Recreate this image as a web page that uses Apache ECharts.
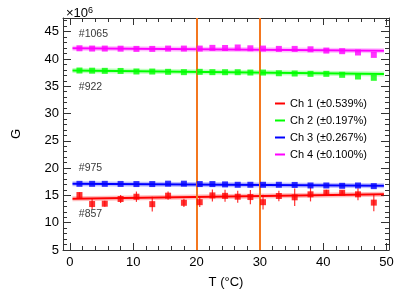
<!DOCTYPE html>
<html><head><meta charset="utf-8">
<script src="https://cdn.jsdelivr.net/npm/echarts@6/dist/echarts.min.js"></script>
<style>html,body{margin:0;padding:0;background:#fff}#c{width:409px;height:301px}</style>
</head><body><div id="c"></div>
<script>
// ---- data ----
const temps = [1.5,3.5,5.5,8,10.5,13,15.5,18,20.5,22.5,24.5,26.5,28.5,30.5,33,35.5,38,40.5,43,45.5,48];
const ch1 = [15.07,13.42,13.48,14.34,14.76,13.4,14.95,13.65,13.76,15.0,14.92,14.76,14.7,13.76,14.89,14.65,15.2,15.5,15.49,15.2,13.68];
const ch1Err = [0.5,0.9,0.55,0.75,0.95,1.35,0.75,0.75,0.9,1.1,1.1,1.1,1.3,1.35,0.95,1.6,1.3,0.55,0.4,1.1,1.6];
const ch2 = [37.88,37.85,37.82,37.8,37.7,37.69,37.64,37.58,37.64,37.58,37.57,37.57,37.51,37.51,37.38,37.33,37.27,37.27,37.09,36.78,36.54];
const ch3 = [17.12,17.12,17.12,17.1,17.08,17.08,17.15,17.15,17.08,17.08,17.02,16.95,16.95,16.95,16.95,16.92,16.82,16.82,16.76,16.82,16.7];
const ch4 = [41.95,41.9,41.9,41.88,41.84,41.84,41.9,41.9,41.9,42.03,42.0,42.1,41.95,41.9,41.84,41.84,41.77,41.53,41.42,41.18,40.74];
const fitT = [0.4, 49.6];
const fit1 = [14.4, 15.2];
const fit2 = [37.87, 37.22];
const fit3 = [17.15, 16.75];
const fit4 = [41.97, 41.5];
const chNames = ['Ch 1 (±0.539%)','Ch 2 (±0.197%)','Ch 3 (±0.267%)','Ch 4 (±0.100%)'];
const annoText = ['#1065','#922','#975','#857'];
const annoX = [1.4, 1.4, 1.4, 1.4];
const annoY = [44.6, 34.9, 20.0, 11.6];
const refLines = [20, 30];
const xMajor = [0,10,20,30,40,50];
const xMinor = [0,2,4,6,8,10,12,14,16,18,20,22,24,26,28,30,32,34,36,38,40,42,44,46,48,50];
const yMajor = [5,10,15,20,25,30,35,40,45];
const yMinor = [5,6,7,8,9,10,11,12,13,14,15,16,17,18,19,20,21,22,23,24,25,26,27,28,29,30,31,32,33,34,35,36,37,38,39,40,41,42,43,44,45,46,47];
const X_MIN = -1.1, X_MAX = 50.4, Y_MIN = 5, Y_MAX = 47.5;
// ---- styles ----
const colors = ['#ff0000','#00ff00','#0000ff','#ff00ff'];
const frame = '#333';
const font = 'Liberation Sans, Arial, sans-serif';

const chart = echarts.init(document.getElementById('c'), null, {renderer:'canvas'});
const zip = (a,b) => a.map((v,i)=>[v,b[i]]);

function xAx(pos, ticks, len, showLine, showLabel){
  return {type:'value', position:pos, min:X_MIN, max:X_MAX, gridIndex:0,
    axisLine:{show:showLine, onZero:false, lineStyle:{color:frame, width:1}},
    axisTick:{show:true, inside:true, length:len, customValues:ticks, lineStyle:{color:frame}},
    axisLabel:{show:showLabel, customValues:xMajor, color:'#000', fontSize:13, fontFamily:font, margin:6},
    splitLine:{show:false}, minorTick:{show:false}};
}
function yAx(pos, ticks, len, showLine, showLabel){
  return {type:'value', position:pos, min:Y_MIN, max:Y_MAX, gridIndex:0,
    axisLine:{show:showLine, onZero:false, lineStyle:{color:frame, width:1}},
    axisTick:{show:true, inside:true, length:len, customValues:ticks, lineStyle:{color:frame}},
    axisLabel:{show:showLabel, customValues:yMajor, color:'#000', fontSize:13, fontFamily:font, margin:4},
    splitLine:{show:false}, minorTick:{show:false}};
}
const xAxes = [xAx('bottom', xMajor, 7, true, true), xAx('bottom', xMinor, 4, false, false),
               xAx('top', xMajor, 7, true, false), xAx('top', xMinor, 4, false, false)];
Object.assign(xAxes[0], {name:'T (°C)', nameLocation:'middle', nameGap:26, nameTextStyle:{fontSize:13, fontFamily:font, color:'#000'}});
const yAxes = [yAx('left', yMajor, 8, true, true), yAx('left', yMinor, 4, false, false),
               yAx('right', yMajor, 8, true, false), yAx('right', yMinor, 4, false, false)];
Object.assign(yAxes[0], {name:'G', nameLocation:'middle', nameGap:40, nameTextStyle:{fontSize:13, fontFamily:font, color:'#000'}});

const chData = [ch1, ch2, ch3, ch4];
const fits = [fit1, fit2, fit3, fit4];
const series = [];
// reference lines
series.push({type:'line', data:[], silent:true, markLine:{symbol:'none', silent:true, label:{show:false},
  lineStyle:{color:'#f4771f', width:2, type:'solid'}, data:refLines.map(v=>({xAxis:v}))}});
// fit lines: halo + core
for (let i=0;i<4;i++){
  series.push({type:'line', data:zip(fitT, fits[i]), symbol:'none', silent:true, z:3,
    lineStyle:{color:colors[i], width:5, opacity:0.25}});
  series.push({name:chNames[i], type:'line', data:zip(fitT, fits[i]), symbol:'none', z:4,
    lineStyle:{color:colors[i], width:2}, itemStyle:{color:colors[i]}});
}
// error bars for ch1
series.push({type:'custom', z:5, data:temps.map((t,i)=>[t, ch1[i], ch1Err[i]]),
  renderItem:(params, api)=>{
    const x=api.value(0), y=api.value(1), e=api.value(2);
    const p1=api.coord([x,y-e]), p2=api.coord([x,y+e]);
    return {type:'line', shape:{x1:p1[0],y1:p1[1],x2:p2[0],y2:p2[1]}, style:{stroke:'rgba(255,0,0,0.8)', lineWidth:1.2}};
  }});
// points
for (let i=0;i<4;i++){
  series.push({type:'scatter', data:zip(temps, chData[i]), symbol:'rect', symbolSize:6, z:6,
    itemStyle:{color:colors[i]}});
}
// annotations
series.push({type:'scatter', data:annoX.map((x,i)=>[x, annoY[i], annoText[i]]), symbolSize:0, z:7, silent:true,
  label:{show:true, position:'right', distance:0, formatter:p=>p.data[2], color:'#000', fontSize:10.5, fontFamily:font}});

chart.setOption({
  animation:false,
  backgroundColor:'#fff',
  grid:{left:63, right:20, top:18, bottom:51},
  xAxis:xAxes, yAxis:yAxes,
  title:{text:'×10{s|6}', left:61, top:1, textStyle:{fontSize:13, fontWeight:'normal', fontFamily:font, color:'#000', rich:{s:{fontSize:9, verticalAlign:'top', padding:[0,0,6,0], fontFamily:font}}}},
  legend:{data:chNames.map(n=>({name:n, icon:'rect'})), orient:'vertical', left:270, top:93, itemWidth:10, itemHeight:2, itemGap:6,
    textStyle:{fontSize:11, fontFamily:font, color:'#000'}},
  series:series
});
</script></body></html>
